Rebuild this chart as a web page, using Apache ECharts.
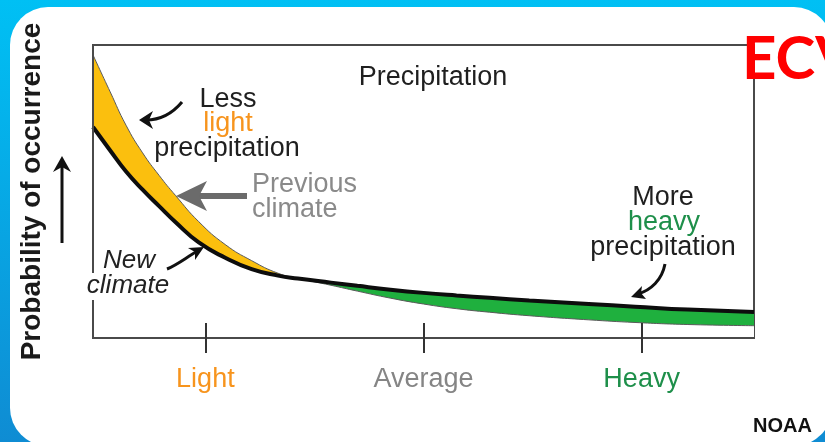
<!DOCTYPE html>
<html>
<head>
<meta charset="utf-8">
<script src="https://cdn.jsdelivr.net/npm/echarts@6/dist/echarts.min.js"></script>
<style>
  html, body { margin: 0; padding: 0; background: #fff; }
  #precip-chart { width: 825px; height: 442px; }
</style>
</head>
<body>
<div id="precip-chart"></div>
<script>
// ==============================================================
// data (x = precipitation intensity 0..100)
// ==============================================================
var precip = [0, 2.6, 5, 7.5, 10, 12.5, 16, 20, 24, 28, 31, 36, 40, 45, 50, 55, 60, 66, 75, 82, 90, 100];
var previousClimate = [96.6, 84.0, 72.6, 63.2, 55.5, 48.6, 39.7, 31.9, 26.4, 22.1, 20.4, 18.0, 16.0, 13.6, 11.6, 10.0, 8.8, 7.6, 6.2, 5.3, 4.6, 4.2];
var newClimate = [72.0, 64.0, 56.8, 50.6, 45.0, 39.5, 32.6, 27.4, 23.5, 21.3, 20.3, 18.9, 17.8, 16.5, 15.4, 14.5, 13.7, 12.8, 11.6, 10.7, 9.7, 8.9];
var tickValues = [17, 50, 83];
var tickLabels = ['Light', 'Average', 'Heavy'];

var FONT = '"Liberation Sans", Arial, sans-serif';

function pairs(ys) {
    return precip.map(function (x, i) { return [x, ys[i]]; });
}
// lower of the two curves, used to blank out everything under both
var lowerCurve = precip.map(function (x, i) { return Math.min(previousClimate[i], newClimate[i]); });

function txt(x, y, text, color, font, align) {
    return {
        type: 'text', z: 100, silent: true,
        style: {
            x: x, y: y, text: text, fill: color, font: font || ('27px ' + FONT),
            align: align || 'center', textAlign: align || 'center',
            verticalAlign: 'middle', textVerticalAlign: 'middle'
        }
    };
}
function head(points, color) {
    return { type: 'polygon', z: 100, silent: true, shape: { points: points }, style: { fill: color || '#111' } };
}
function curve(s, color, w) {
    return { type: 'bezierCurve', z: 100, silent: true, shape: s, style: { stroke: color || '#111', lineWidth: w || 3, fill: null } };
}
function area(name, ys, color) {
    return {
        name: name, type: 'line', data: pairs(ys), smooth: true, z: 1,
        symbol: 'none', silent: true, lineStyle: { width: 0, opacity: 0 },
        areaStyle: { color: color, opacity: 1 }
    };
}

var frameLine = { show: true, lineStyle: { color: '#4a4a4a', width: 2 } };

var chart = echarts.init(document.getElementById('precip-chart'));

option = {
    animation: false,
    title: {
        text: 'Precipitation', left: 428, top: 59, textAlign: 'center',
        textStyle: { fontFamily: FONT, fontSize: 27, fontWeight: 'normal', color: '#1f1f1f' }
    },
    grid: {
        left: 93, right: 71, top: 45, bottom: 104,
        show: true, borderColor: '#4a4a4a', borderWidth: 2, backgroundColor: 'transparent'
    },
    xAxis: [{
        type: 'value', min: 0, max: 100, z: 10,
        axisLine: frameLine,
        splitLine: { show: false },
        axisTick: { show: true, customValues: tickValues, length: 15, lineStyle: { color: '#333', width: 2 } },
        axisLabel: {
            show: true, customValues: tickValues, margin: 28,
            fontFamily: FONT, fontSize: 27,
            formatter: function (v) { return tickLabels[tickValues.indexOf(Number(v))]; },
            color: function (v) {
                var c = { Light: '#f7941d', Average: '#858585', Heavy: '#1e8f4a' };
                return c[tickLabels[tickValues.indexOf(Number(v))]];
            }
        }
    }, {
        type: 'value', min: 0, max: 100, position: 'bottom', offset: 0, z: 10,
        axisLine: { show: false },
        splitLine: { show: false },
        axisTick: { show: true, inside: true, customValues: tickValues, length: 15, lineStyle: { color: '#333', width: 2 } },
        axisLabel: { show: false }
    }],
    yAxis: [{
        type: 'value', min: 0, max: 100, z: 10, position: 'left',
        axisLine: frameLine, axisTick: { show: false }, axisLabel: { show: false }, splitLine: { show: false },
        name: 'Probability of occurrence', nameLocation: 'middle', nameRotate: 90, nameGap: 47,
        nameTextStyle: { fontFamily: FONT, fontSize: 28, fontWeight: 'bold', color: '#1a1a1a' }
    }, {
        type: 'value', min: 0, max: 100, z: 10, position: 'right',
        axisLine: frameLine, axisTick: { show: false }, axisLabel: { show: false }, splitLine: { show: false }
    }],
    series: [
        area('Less light precipitation', previousClimate, '#fbbf0e'),
        area('More heavy precipitation', newClimate, '#1fb03e'),
        area('under both', lowerCurve, '#ffffff'),
        {
            name: 'Previous climate', type: 'line', data: pairs(previousClimate), smooth: true,
            symbol: 'none', silent: true, z: 4, lineStyle: { color: '#5a5a5a', width: 1 }
        }, {
            name: 'New climate', type: 'line', data: pairs(newClimate), smooth: true,
            symbol: 'none', silent: true, z: 5, lineStyle: { color: '#0d0d0d', width: 4 }
        }
    ],
    graphic: [
        // background frame
        {
            type: 'rect', z: -100, silent: true, shape: { x: 0, y: 0, width: 825, height: 442 },
            style: { fill: new echarts.graphic.LinearGradient(0, 0, 0, 1, [{ offset: 0, color: '#00c0f4' }, { offset: 1, color: '#0f8cd3' }]) }
        },
        { type: 'rect', z: -90, silent: true, shape: { x: 10, y: 7, width: 822, height: 439, r: 38 }, style: { fill: '#ffffff' } },
        // gap in the frame behind "New climate"
        { type: 'rect', z: 90, silent: true, shape: { x: 86, y: 273, width: 14, height: 27 }, style: { fill: '#ffffff' } },
        // y arrow
        { type: 'line', z: 100, silent: true, shape: { x1: 62, y1: 243, x2: 62, y2: 166 }, style: { stroke: '#111', lineWidth: 3 } },
        head([[62, 156], [53, 172], [62, 167], [71, 172]]),
        // less light precipitation
        txt(228, 100, 'Less', '#1f1f1f'),
        txt(228, 124, 'light', '#f7941d'),
        txt(227, 149, 'precipitation', '#1f1f1f'),
        curve({ x1: 182, y1: 102, cpx1: 172, cpy1: 114, cpx2: 160, cpy2: 120, x2: 146, y2: 120 }),
        head([[139, 120], [153, 111], [149, 120], [153, 129]]),
        // previous climate
        txt(252, 185, 'Previous', '#8a8a8a', null, 'left'),
        txt(252, 210, 'climate', '#8a8a8a', null, 'left'),
        { type: 'rect', z: 100, silent: true, shape: { x: 198, y: 193, width: 49, height: 6 }, style: { fill: '#6b6b6b' } },
        head([[176, 196], [207, 181], [199, 196], [207, 211]], '#6b6b6b'),
        // new climate
        txt(129, 261, 'New', '#222', 'italic 26px ' + FONT),
        txt(128, 286, 'climate', '#222', 'italic 26px ' + FONT),
        curve({ x1: 167, y1: 269, cpx1: 177, cpy1: 265, cpx2: 187, cpy2: 257, x2: 196, y2: 252 }),
        head([[204, 247], [195, 260], [195, 252], [188, 248]]),
        // more heavy precipitation
        txt(663, 198, 'More', '#1f1f1f'),
        txt(664, 223, 'heavy', '#1e8f4a'),
        txt(663, 248, 'precipitation', '#1f1f1f'),
        curve({ x1: 665, y1: 264, cpx1: 662, cpy1: 280, cpx2: 651, cpy2: 290, x2: 638, y2: 294 }),
        head([[631, 297], [646, 299], [641, 293], [642, 286]]),
        // corner labels
        txt(742, 60, 'ECV', '#ff0000', 'bold 60px Lato, ' + FONT, 'left'),
        txt(753, 426, 'NOAA', '#111', 'bold 20px ' + FONT, 'left')
    ]
};

chart.setOption(option, true);
window.addEventListener('resize', function () {
    setTimeout(function () { chart.resize(); }, 100);
});
</script>
</body>
</html>
